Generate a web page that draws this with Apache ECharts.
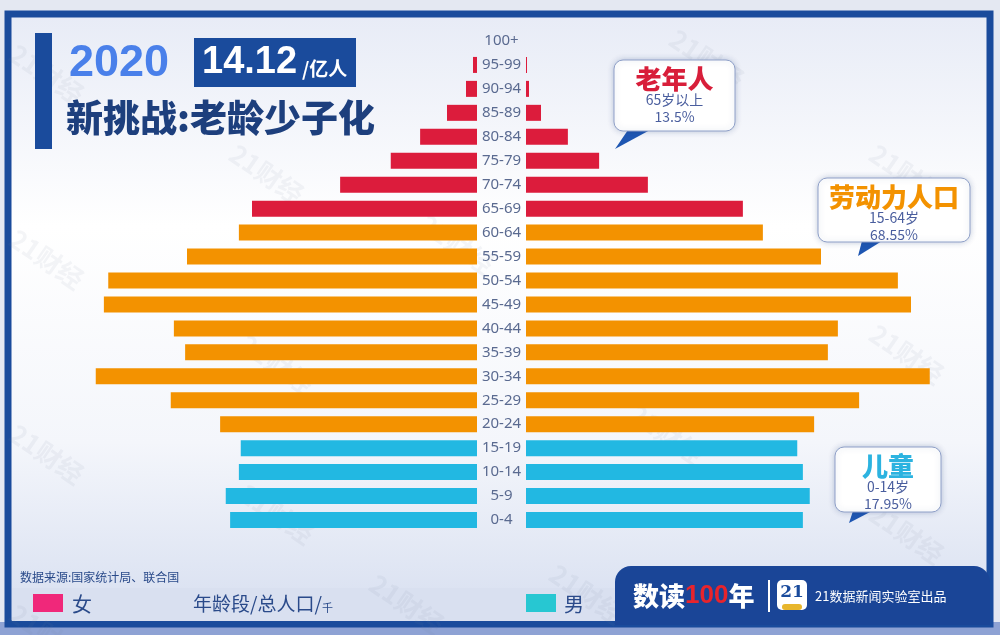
<!DOCTYPE html>
<html>
<head>
<meta charset="utf-8">
<script src="https://cdn.jsdelivr.net/npm/echarts@6/dist/echarts.min.js"></script>
<style>
  html, body { margin: 0; padding: 0; }
  #main { width: 1000px; height: 635px; }
</style>
</head>
<body>
<div id="main"></div>
<script>
// 年龄段（自下而上）
var ages = ['0-4', '5-9', '10-14', '15-19', '20-24', '25-29', '30-34', '35-39', '40-44', '45-49',
  '50-54', '55-59', '60-64', '65-69', '70-74', '75-79', '80-84', '85-89', '90-94', '95-99', '100+'];
// 女（千人）
var female = [39500, 40200, 38100, 37800, 41100, 49000, 61000, 46700, 48500, 59700,
  59000, 46400, 38100, 36000, 21900, 13800, 9100, 4800, 1760, 640, 0];
// 男（千人）
var male = [44300, 45400, 44300, 43400, 46100, 53300, 64600, 48300, 49900, 61600,
  59500, 47200, 37900, 34700, 19500, 11700, 6700, 2400, 480, 160, 0];

var font = '"Noto Sans CJK SC", "Noto Sans", sans-serif';
var deep = '#1a4b9c';

function barColor(p) {
  if (p.dataIndex < 4) return '#22b8e2';
  if (p.dataIndex < 13) return '#f39200';
  return '#dc1c3c';
}

function callout(x, y, w, h, title, color, l1, l2, tail) {
  return [
    { type: 'polygon', z: 100, shape: { points: tail }, style: { fill: '#1e56b2' } },
    { type: 'rect', z: 101, shape: { x: x, y: y, width: w, height: h, r: 9 },
      style: { fill: '#ffffff', stroke: '#8fa0c8', lineWidth: 1, shadowBlur: 6, shadowColor: 'rgba(30,60,120,0.25)' } },
    { type: 'text', z: 102, style: { x: x + w / 2, y: y + 19, text: title, fill: color, font: '900 26px ' + font, align: 'center', verticalAlign: 'middle' } },
    { type: 'text', z: 102, style: { x: x + w / 2, y: y + 40, text: l1, fill: '#4a5e9e', font: '14px ' + font, align: 'center', verticalAlign: 'middle' } },
    { type: 'text', z: 102, style: { x: x + w / 2, y: y + 57, text: l2, fill: '#4a5e9e', font: '14px ' + font, align: 'center', verticalAlign: 'middle' } }
  ];
}

var marks = [];
[[20, 40], [240, 140], [680, 25], [880, 140], [20, 225], [430, 210], [880, 320], [250, 330],
 [20, 420], [640, 400], [250, 480], [880, 500], [560, 560], [380, 570], [20, 600]].forEach(function (p) {
  marks.push({ type: 'text', z: -5, x: p[0], y: p[1], rotation: -0.6,
    style: { text: '21财经', fill: 'rgba(120,130,150,0.08)', font: 'bold 26px ' + font } });
});

var graphics = [
  { type: 'rect', z: -20, shape: { x: 0, y: 0, width: 1000, height: 635 }, style: { fill: '#e4e8f2' } },
  { type: 'rect', z: -20, shape: { x: 0, y: 622, width: 1000, height: 13 }, style: { fill: '#8ea2d4' } },
  { type: 'rect', z: -19, shape: { x: 8, y: 14, width: 982, height: 610 },
    style: { fill: new echarts.graphic.LinearGradient(0, 0, 0, 1, [
      { offset: 0, color: '#e7ebf6' }, { offset: 0.35, color: '#ffffff' },
      { offset: 0.7, color: '#f4f6fb' }, { offset: 1, color: '#d6def0' }]),
      stroke: deep, lineWidth: 7 } },
  { type: 'rect', z: -18, shape: { x: 12, y: 588, width: 608, height: 33 }, style: { fill: '#d9e0f0' } },
  // 标题
  { type: 'rect', shape: { x: 35, y: 33, width: 17, height: 116 }, style: { fill: deep } },
  { type: 'text', style: { x: 69, y: 64, text: '2020', fill: '#4a80ea', font: 'bold 45px "Liberation Sans", Arial, sans-serif', verticalAlign: 'middle' } },
  { type: 'rect', shape: { x: 194, y: 38, width: 162, height: 49 }, style: { fill: deep } },
  { type: 'text', style: { x: 202, y: 63, text: '14.12', fill: '#ffffff', font: 'bold 38px "Liberation Sans", Arial, sans-serif', verticalAlign: 'middle' } },
  { type: 'text', style: { x: 302, y: 69, text: '/亿人', fill: '#ffffff', font: 'bold 19px ' + font, verticalAlign: 'middle' } },
  { type: 'text', style: { x: 66, y: 118, text: '新挑战:老龄少子化', fill: '#1d3f7d', font: '900 37px ' + font, verticalAlign: 'middle' } },
  // 底部
  { type: 'text', style: { x: 20, y: 577, text: '数据来源:国家统计局、联合国', fill: '#2a4a8a', font: '12px ' + font, verticalAlign: 'middle' } },
  { type: 'rect', shape: { x: 33, y: 594, width: 30, height: 18 }, style: { fill: '#f0287a' } },
  { type: 'text', style: { x: 72, y: 604, text: '女', fill: '#2a4a8a', font: '20px ' + font, verticalAlign: 'middle' } },
  { type: 'text', style: { x: 193, y: 604, text: '年龄段/总人口/{s|千}', fill: '#2a4a8a', font: '19px ' + font, verticalAlign: 'middle',
    rich: { s: { fontSize: 11, fontFamily: font, fill: '#2a4a8a', verticalAlign: 'bottom' } } } },
  { type: 'rect', shape: { x: 526, y: 594, width: 30, height: 18 }, style: { fill: '#27c7d2' } },
  { type: 'text', style: { x: 564, y: 604, text: '男', fill: '#2a4a8a', font: '20px ' + font, verticalAlign: 'middle' } },
  { type: 'rect', shape: { x: 615, y: 566, width: 375, height: 59, r: [16, 16, 0, 0] }, style: { fill: '#1a4597' } },
  { type: 'text', style: { x: 633, y: 596, text: '数读{r|100}年', fill: '#ffffff', font: '900 26px ' + font, verticalAlign: 'middle',
    rich: { r: { fill: '#e8242c', fontSize: 26, fontWeight: 900, fontFamily: '"Liberation Sans", sans-serif' } } } },
  { type: 'rect', shape: { x: 768, y: 580, width: 2, height: 32 }, style: { fill: '#ffffff' } },
  { type: 'rect', shape: { x: 777, y: 580, width: 30, height: 30, r: 5 }, style: { fill: '#ffffff' } },
  { type: 'text', style: { x: 792, y: 593, text: '21', fill: deep, font: 'bold 17px "DejaVu Serif", serif', align: 'center', verticalAlign: 'middle' } },
  { type: 'rect', shape: { x: 782, y: 604, width: 20, height: 6, r: 3 }, style: { fill: '#e8b62c' } },
  { type: 'text', style: { x: 815, y: 596, text: '21数据新闻实验室出品', fill: '#ffffff', font: '13px ' + font, verticalAlign: 'middle' } }
]
.concat(marks)
.concat(callout(614, 60, 121, 71, '老年人', '#d81e3a', '65岁以上', '13.5%', [[628, 130], [650, 130], [615, 149]]))
.concat(callout(818, 178, 152, 64, '劳动力人口', '#f39200', '15-64岁', '68.55%', [[862, 241], [882, 241], [858, 256]]))
.concat(callout(835, 447, 106, 65, '儿童', '#2cb3e0', '0-14岁', '17.95%', [[853, 511], [872, 511], [849, 523]]));

var option = {
  animation: false,
  backgroundColor: '#e4e8f2',
  graphic: graphics,
  grid: [
    { left: 39.5, width: 437.5, top: 29, height: 503 },
    { left: 526, width: 437.5, top: 29, height: 503 }
  ],
  xAxis: [
    { gridIndex: 0, type: 'value', min: 0, max: 70000, inverse: true, show: false },
    { gridIndex: 1, type: 'value', min: 0, max: 70000, show: false }
  ],
  yAxis: [
    { gridIndex: 0, type: 'category', data: ages, show: false },
    { gridIndex: 1, type: 'category', data: ages, position: 'left',
      axisLine: { show: false }, axisTick: { show: false },
      axisLabel: { margin: 24.5, align: 'center', color: '#5a6a90', fontSize: 15, fontFamily: '"Noto Sans", sans-serif' } }
  ],
  series: [
    { name: '女', type: 'bar', xAxisIndex: 0, yAxisIndex: 0, data: female, barWidth: 16,
      itemStyle: { color: barColor } },
    { name: '男', type: 'bar', xAxisIndex: 1, yAxisIndex: 1, data: male, barWidth: 16,
      itemStyle: { color: barColor } }
  ]
};

var myChart = echarts.init(document.getElementById('main'));
myChart.setOption(option);
</script>
</body>
</html>
